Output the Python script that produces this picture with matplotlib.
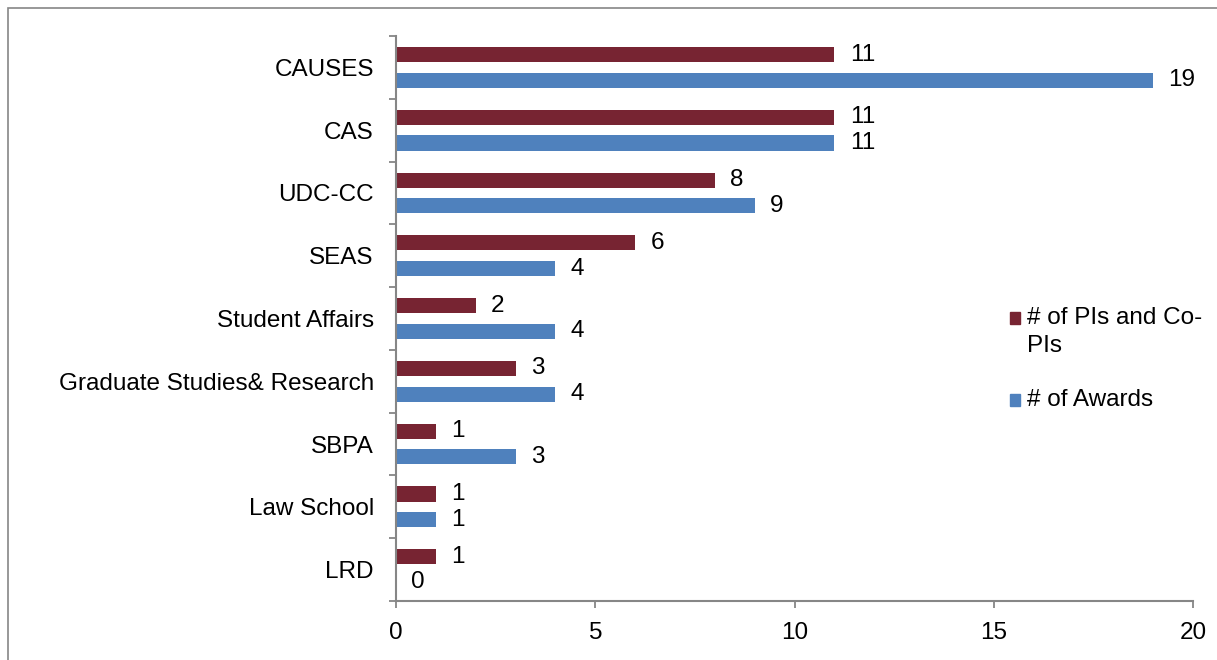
import numpy as np
import matplotlib.pyplot as plt
from matplotlib.patches import Rectangle

plt.rcParams['font.family'] = ['Liberation Sans', 'DejaVu Sans']

categories = ['CAUSES', 'CAS', 'UDC-CC', 'SEAS', 'Student Affairs',
              'Graduate Studies& Research', 'SBPA', 'Law School', 'LRD']
pis = [11, 11, 8, 6, 2, 3, 1, 1, 1]
awards = [19, 11, 9, 4, 4, 4, 3, 1, 0]
series_names = ['# of PIs and Co-\nPIs', '# of Awards']

red = '#772432'
blue = '#4F81BD'
gray = '#868686'
fs = 17.5
W, H = 1217, 660


def main():
    fig = plt.figure(figsize=(W / 100, H / 100), dpi=100)
    ax = fig.add_axes([396 / W, 59 / H, 797 / W, 565 / H])

    # frame around the chart area
    fig.patches.append(Rectangle((8 / W, -0.1), 1.2, 0.1 + 652 / H,
                                 transform=fig.transFigure, fill=False,
                                 edgecolor=gray, linewidth=1.2))

    y = np.arange(len(categories))
    off = 0.204
    h = 0.24
    b1 = ax.barh(y - off, pis, height=h, color=red)
    b2 = ax.barh(y + off, awards, height=h, color=blue)

    for bars, vals in [(b1, pis), (b2, awards)]:
        for bar, v in zip(bars, vals):
            ax.annotate(str(v), (v, bar.get_y() + bar.get_height() / 2),
                        xytext=(11, 0), textcoords='offset points',
                        ha='left', va='center', fontsize=fs)

    ax.set_xlim(0, 20)
    ax.set_ylim(len(categories) - 0.5, -0.5)
    ax.set_xticks([0, 5, 10, 15, 20])
    ax.set_yticks(np.arange(len(categories) + 1) - 0.5)
    ax.set_yticklabels([])
    ax.set_yticks(y, minor=True)
    ax.set_yticklabels(categories, minor=True)
    ax.tick_params(axis='y', which='minor', length=0, pad=16, labelsize=fs)
    ax.tick_params(axis='y', which='major', length=5, width=1.3, color=gray)
    ax.tick_params(axis='x', length=5, width=1.3, color=gray, pad=10, labelsize=fs)

    for s in ['top', 'right']:
        ax.spines[s].set_visible(False)
    for s in ['left', 'bottom']:
        ax.spines[s].set_color(gray)
        ax.spines[s].set_linewidth(1.5)

    # legend drawn by hand so the marker sits on the first line of text
    for name, col, ytop in zip(series_names, [red, blue], [318, 400]):
        fig.patches.append(Rectangle((1010 / W, 1 - (ytop + 6) / H), 10 / W, 12 / H,
                                     transform=fig.transFigure, color=col))
        for i, line in enumerate(name.split('\n')):
            fig.text(1027 / W, 1 - (ytop + 28 * i) / H, line, fontsize=fs,
                     ha='left', va='center')

    fig.savefig('out.png', dpi=100)


if __name__ == '__main__':
    main()
